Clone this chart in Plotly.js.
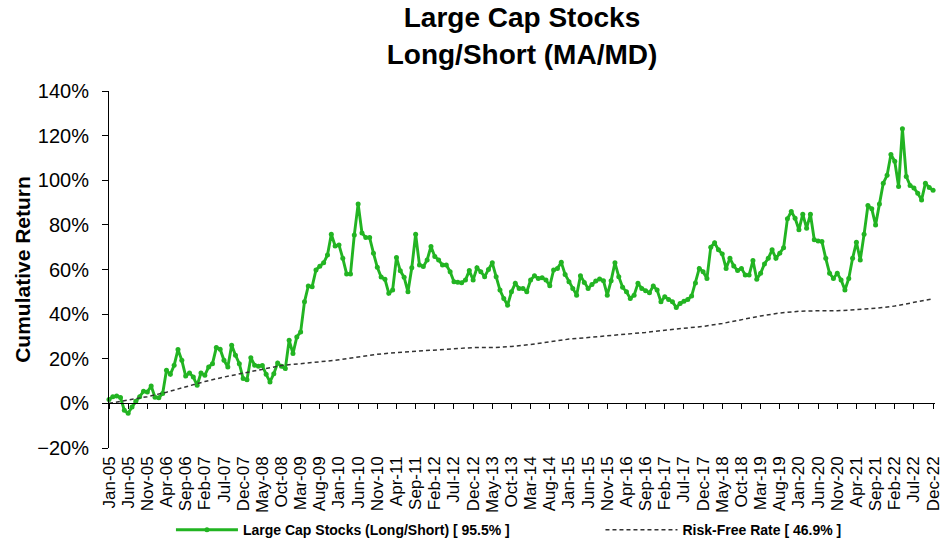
<!DOCTYPE html>
<html>
<head>
<meta charset="utf-8">
<script src="https://cdn.plot.ly/plotly-3.0.1.min.js"></script>
<style>html,body{margin:0;padding:0;background:#fff;}#chart{width:950px;height:544px;}</style>
</head>
<body>
<div id="chart"></div>
<script>
// Month index 0 = Jan-05 ... 215 = Dec-22
var largeCapLS = [
 1.7, 3.0, 3.3, 2.6, -3.1, -4.4, -1.6, 1.0, 3.0, 5.4, 5.1, 7.8,
 2.8, 2.5, 4.4, 14.8, 13.0, 17.1, 24.1, 19.3, 12.3, 13.6, 11.8, 8.1,
 13.6, 12.6, 16.3, 17.8, 25.0, 24.3, 19.3, 16.3, 26.1, 21.6, 17.8, 11.1,
 10.6, 20.5, 17.1, 16.6, 17.0, 13.0, 9.6, 13.3, 18.1, 16.6, 15.6, 28.3,
 22.3, 29.8, 32.0, 45.5, 52.6, 52.3, 59.8, 61.5, 63.0, 66.5, 75.8, 70.5,
 71.0, 65.0, 58.0, 58.0, 75.5, 89.4, 76.4, 74.3, 74.3, 67.3, 61.0, 56.6,
 55.6, 49.3, 50.8, 65.4, 59.4, 56.5, 50.0, 60.8, 75.8, 62.0, 61.3, 64.3,
 70.3, 65.8, 64.3, 62.0, 62.0, 59.0, 54.5, 54.3, 54.1, 55.3, 59.5, 55.3,
 60.8, 59.0, 56.8, 60.0, 63.0, 56.8, 50.8, 47.0, 44.0, 50.0, 53.8, 51.5,
 51.5, 50.0, 55.3, 57.2, 56.0, 56.3, 55.3, 52.7, 59.8, 60.5, 63.2, 57.8,
 54.5, 51.5, 48.5, 57.2, 54.2, 51.5, 53.3, 54.8, 55.7, 55.0, 48.5, 55.0,
 63.0, 56.8, 52.0, 50.0, 47.0, 48.5, 53.8, 51.5, 50.5, 49.6, 52.6, 50.8,
 45.5, 47.8, 46.6, 45.5, 43.0, 44.8, 45.8, 46.6, 48.1, 54.0, 60.5, 59.0,
 56.0, 70.0, 72.0, 68.8, 67.0, 60.5, 65.0, 61.6, 59.5, 60.5, 57.5, 57.5,
 64.0, 55.6, 58.3, 62.5, 65.0, 68.8, 65.0, 67.3, 69.8, 82.7, 86.0, 83.0,
 77.8, 84.8, 78.5, 84.8, 73.3, 72.8, 72.5, 65.0, 58.3, 56.0, 58.3, 55.3,
 50.8, 56.0, 65.0, 72.2, 64.3, 75.8, 88.7, 87.2, 80.0, 89.3, 98.7, 102.2,
 111.5, 108.5, 97.2, 123.1, 101.7, 97.7, 96.5, 94.2, 91.2, 98.7, 96.8, 95.5
];

var tickMonths = [0,5,10,15,20,25,30,35,40,45,50,55,60,65,70,75,80,85,90,95,100,105,
 110,115,120,125,130,135,140,145,150,155,160,165,170,175,180,185,190,195,200,205,210,215];
var tickLabels = ['Jan-05','Jun-05','Nov-05','Apr-06','Sep-06','Feb-07','Jul-07','Dec-07',
 'May-08','Oct-08','Mar-09','Aug-09','Jan-10','Jun-10','Nov-10','Apr-11','Sep-11','Feb-12',
 'Jul-12','Dec-12','May-13','Oct-13','Mar-14','Aug-14','Jan-15','Jun-15','Nov-15','Apr-16',
 'Sep-16','Feb-17','Jul-17','Dec-17','May-18','Oct-18','Mar-19','Aug-19','Jan-20','Jun-20',
 'Nov-20','Apr-21','Sep-21','Feb-22','Jul-22','Dec-22'];

// Risk-free cumulative return read at the tick months
var riskFree = [0.0, 1.5, 3.0, 5.0, 7.5, 9.8, 11.8, 13.6, 15.5, 17.0, 17.8, 18.6, 19.5, 20.8,
 22.0, 22.8, 23.3, 24.1, 24.5, 25.0, 25.0, 25.5, 26.4, 27.6, 28.8, 29.5, 30.2, 30.8, 31.8,
 32.8, 33.5, 34.5, 35.8, 37.6, 39.2, 40.5, 41.3, 41.5, 41.5, 42.0, 42.6, 43.6, 45.3, 46.9];

var seriesNames = ['Large Cap Stocks (Long/Short) [ 95.5% ]', 'Risk-Free Rate [ 46.9% ]'];

var monthIdx = largeCapLS.map(function(_, i){ return i; });

var FONT = 'Liberation Sans, Arial, sans-serif';

var traces = [
  {
    x: monthIdx, y: largeCapLS, type: 'scatter', mode: 'lines+markers',
    name: '<b>' + seriesNames[0] + '</b>',
    line: {color: '#22B422', width: 2.9},
    marker: {color: '#22B422', size: 5},
    cliponaxis: false, legend: 'legend',
    xaxis: 'x', yaxis: 'y'
  },
  {
    x: tickMonths, y: riskFree, type: 'scatter', mode: 'lines',
    name: '<b>' + seriesNames[1] + '</b>',
    line: {color: '#333333', width: 1.5, dash: '4px,3px'},
    legend: 'legend2',
    xaxis: 'x2', yaxis: 'y'
  }
];

var xr = [0, 215.5];
var legFont = {family: FONT, size: 14, color: '#000'};
var layout = {
  width: 950, height: 544,
  paper_bgcolor: '#ffffff', plot_bgcolor: '#ffffff',
  margin: {l: 109, r: 15, t: 91, b: 96, autoexpand: false},
  font: {family: FONT, color: '#000'},
  title: {
    text: '<b>Large Cap Stocks<br>Long/Short (MA/MD)</b>',
    x: 0.5, xref: 'paper', xanchor: 'center',
    y: 0.95, yref: 'container', yanchor: 'middle',
    font: {family: FONT, size: 28, color: '#000'}
  },
  xaxis: {
    range: xr, tickmode: 'array', tickvals: tickMonths, ticktext: tickLabels,
    tickangle: -90, ticks: '', showline: false, showgrid: false, zeroline: false,
    automargin: false, ticklabelstandoff: 4,
    tickfont: {family: FONT, size: 17, color: '#000'}
  },
  xaxis2: {
    overlaying: 'x', anchor: 'free', position: 0.125, range: xr,
    tickmode: 'array', tickvals: tickMonths, showticklabels: false,
    ticks: 'outside', ticklen: 5, tickcolor: '#000', tickwidth: 1,
    showline: true, linecolor: '#000', linewidth: 1, showgrid: false, zeroline: false
  },
  yaxis: {
    range: [-20, 140], dtick: 20, tick0: 0, ticksuffix: '%',
    showline: true, linecolor: '#000', linewidth: 1, ticks: 'outside', ticklen: 6,
    tickcolor: '#000', showgrid: false, zeroline: false, automargin: false,
    ticklabelstandoff: 9,
    tickfont: {family: FONT, size: 20, color: '#000'},
    title: {text: '<b>Cumulative Return</b>', font: {family: FONT, size: 21, color: '#000'}, standoff: 0}
  },
  showlegend: true,
  legend: {
    orientation: 'h', x: 0.075, xanchor: 'left', y: -0.23, yanchor: 'middle',
    font: legFont, itemwidth: 62, bgcolor: 'rgba(0,0,0,0)'
  },
  legend2: {
    orientation: 'h', x: 0.595, xanchor: 'left', y: -0.23, yanchor: 'middle',
    font: legFont, itemwidth: 72, bgcolor: 'rgba(0,0,0,0)'
  }
};

Plotly.newPlot('chart', traces, layout, {displayModeBar: false, staticPlot: true});
</script>
</body>
</html>
